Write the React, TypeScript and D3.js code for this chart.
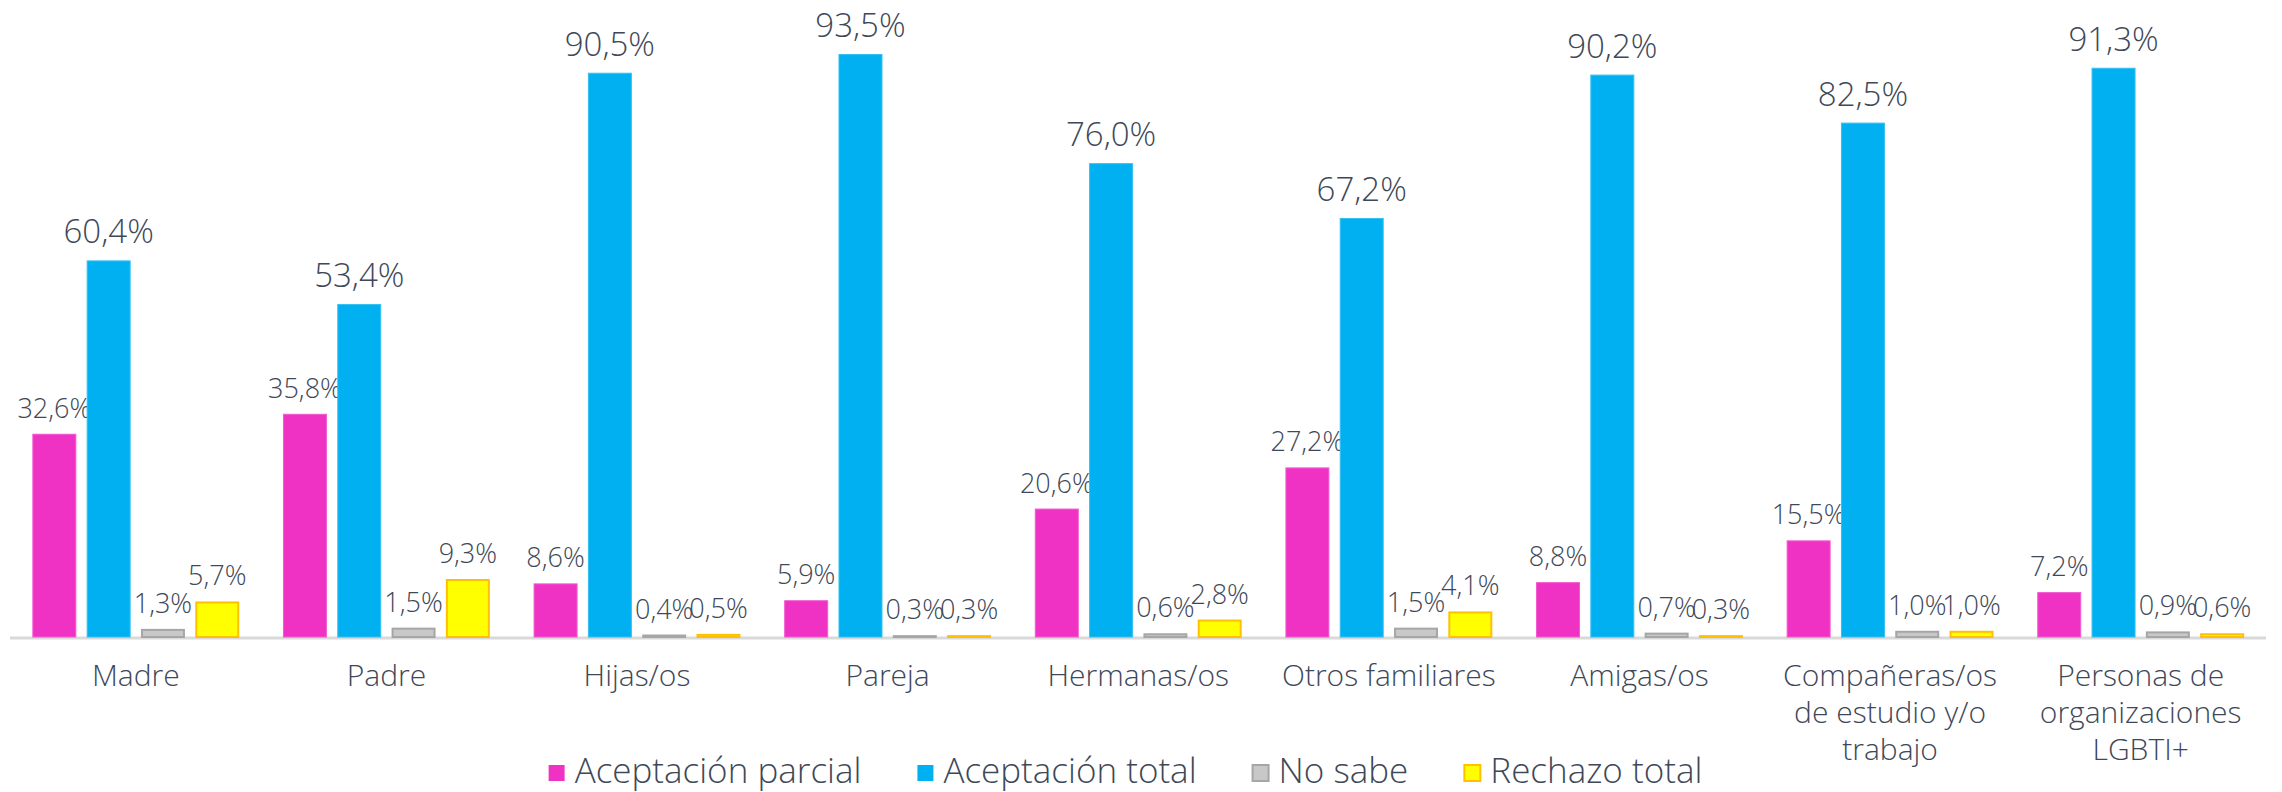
import React, { useEffect, useRef } from "react";
import * as d3 from "d3";

const categories = [
  "Madre",
  "Padre",
  "Hijas/os",
  "Pareja",
  "Hermanas/os",
  "Otros familiares",
  "Amigas/os",
  "Compañeras/os de estudio y/o trabajo",
  "Personas de organizaciones LGBTI+",
];
const categoryLines = [
  ["Madre"],
  ["Padre"],
  ["Hijas/os"],
  ["Pareja"],
  ["Hermanas/os"],
  ["Otros familiares"],
  ["Amigas/os"],
  ["Compañeras/os", "de estudio y/o", "trabajo"],
  ["Personas de", "organizaciones", "LGBTI+"],
];
const seriesNames = ["Aceptación parcial", "Aceptación total", "No sabe", "Rechazo total"];
const aceptacionParcial = [32.6, 35.8, 8.6, 5.9, 20.6, 27.2, 8.8, 15.5, 7.2];
const aceptacionTotal = [60.4, 53.4, 90.5, 93.5, 76.0, 67.2, 90.2, 82.5, 91.3];
const noSabe = [1.3, 1.5, 0.4, 0.3, 0.6, 1.5, 0.7, 1.0, 0.9];
const rechazoTotal = [5.7, 9.3, 0.5, 0.3, 2.8, 4.1, 0.3, 1.0, 0.6];

const W = 2282;
const H = 792;
const FONT = "'Century Gothic', 'Open Sans', 'Noto Sans', sans-serif";
const WEIGHT = 300;
const TEXT = "#3E4858";
const fills = ["#F032C4", "#00B0F0", "#C8C8C8", "#FFFF00"];
const strokes = ["#F25ACF", "#33C0F3", "#A6A6A6", "#FFC000"];

export default function App() {
  const ref = useRef<SVGSVGElement | null>(null);

  useEffect(() => {
    document.body.style.margin = "0";
    const svg = d3.select(ref.current);
    svg.selectAll("*").remove();

    const values = [aceptacionParcial, aceptacionTotal, noSabe, rechazoTotal];
    const baseY = 637;
    const y = d3.scaleLinear().domain([0, 100]).range([baseY, baseY - 623.5]);
    const x0 = d3.scaleBand<string>().domain(categories).range([10.5, 2266]).paddingInner(0).paddingOuter(0);
    const gw = 206.9;
    const off = (x0.bandwidth() - gw) / 2;
    const x1 = d3.scaleBand<string>().domain(seriesNames).range([off, off + gw]).paddingInner(0.19).paddingOuter(0);

    const fmt = (v: number) => v.toFixed(1).replace(".", ",") + "%";

    svg.append("line")
      .attr("x1", 10).attr("x2", 2266)
      .attr("y1", baseY + 1).attr("y2", baseY + 1)
      .attr("stroke", "#D9D9D9").attr("stroke-width", 3);

    seriesNames.forEach((s, si) => {
      const g = svg.append("g");
      categories.forEach((c, ci) => {
        const v = values[si][ci];
        const bx = (x0(c) as number) + (x1(s) as number);
        const bw = x1.bandwidth();
        const top = y(v);
        const sw = si >= 2 ? 2 : 1;
        g.append("rect")
          .attr("x", bx + sw / 2)
          .attr("y", top + sw / 2)
          .attr("width", bw - sw)
          .attr("height", Math.max(0, baseY - top - sw / 2))
          .attr("fill", fills[si])
          .attr("stroke", strokes[si])
          .attr("stroke-width", sw);
        g.append("text")
          .attr("x", bx + bw / 2)
          .attr("y", top - (si === 1 ? 17 : 16))
          .attr("text-anchor", "middle")
          .attr("font-family", FONT)
          .attr("font-weight", WEIGHT)
          .attr("font-size", si === 1 ? 33 : 27)
          .attr("fill", TEXT)
          .text(fmt(v));
      });
    });

    categories.forEach((c, ci) => {
      const cx = (x0(c) as number) + x0.bandwidth() / 2;
      const t = svg.append("text")
        .attr("text-anchor", "middle")
        .attr("font-family", FONT)
        .attr("font-weight", WEIGHT)
        .attr("font-size", 30)
        .attr("fill", TEXT);
      categoryLines[ci].forEach((line, li) => {
        t.append("tspan").attr("x", cx).attr("y", 686 + li * 37).text(line);
      });
    });

    const lg = svg.append("g");
    const items: { w: number; g: any }[] = [];
    seriesNames.forEach((s, si) => {
      const ig = lg.append("g");
      ig.append("rect")
        .attr("x", 1).attr("y", 765)
        .attr("width", 16).attr("height", 16)
        .attr("fill", fills[si])
        .attr("stroke", si >= 2 ? strokes[si] : "none")
        .attr("stroke-width", 2);
      const tx = ig.append("text")
        .attr("x", 27).attr("y", 783)
        .attr("font-family", FONT)
        .attr("font-weight", WEIGHT)
        .attr("font-size", 35)
        .attr("fill", TEXT)
        .text(s);
      const tw = (tx.node() as SVGTextElement).getComputedTextLength();
      items.push({ w: 27 + tw, g: ig });
    });
    const gap = 55;
    const total = d3.sum(items, (d) => d.w) + gap * (items.length - 1);
    let cur = 1125 - total / 2;
    items.forEach((it) => {
      it.g.attr("transform", `translate(${cur},0)`);
      cur += it.w + gap;
    });
  }, []);

  return <svg ref={ref} width={W} height={H} style={{ display: "block", background: "#fff" }} />;
}
